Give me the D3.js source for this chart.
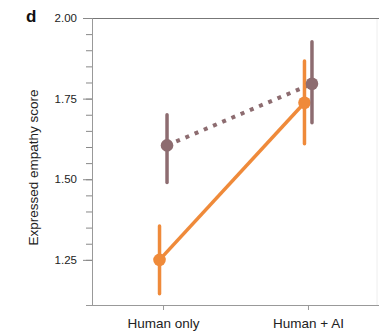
<!DOCTYPE html>
<html>
<head>
<meta charset="utf-8">
<script src="https://cdn.jsdelivr.net/npm/d3@7"></script>
<style>
  body { margin: 0; background: #fff; }
  svg { font-family: "Liberation Sans", Arial, sans-serif; }
</style>
</head>
<body>
<svg id="chart" width="379" height="333"></svg>
<script>
const CONDITIONS = ["Human only", "Human + AI"];
const Y_TICKS = [1.25, 1.50, 1.75, 2.00];

// orange: solid line, brown: dotted line
const ORANGE_MEAN = [1.25, 1.737];
const ORANGE_LOW = [1.145, 1.61];
const ORANGE_HIGH = [1.355, 1.867];

const BROWN_MEAN = [1.605, 1.796];
const BROWN_LOW = [1.49, 1.675];
const BROWN_HIGH = [1.70, 1.926];

const ORANGE = "#ef8a3a";
const BROWN = "#8d6c70";

const LEFT = 92, RIGHT = 379, TOP = 18, BOTTOM = 305;

let svg = d3.select("#chart");

let x = d3.scalePoint().domain(CONDITIONS).range([LEFT, RIGHT]).padding(0.49);
let y = d3.scaleLinear().domain([1.11, 2.0]).range([BOTTOM, TOP]);

const series = [
  {mean: ORANGE_MEAN, low: ORANGE_LOW, high: ORANGE_HIGH, color: ORANGE, dash: null, dx: -3.5},
  {mean: BROWN_MEAN, low: BROWN_LOW, high: BROWN_HIGH, color: BROWN, dash: "4 6", dx: 4}
];

// frame
svg.append("line")
   .attr("x1", RIGHT - 2).attr("x2", RIGHT - 2)
   .attr("y1", TOP).attr("y2", BOTTOM)
   .attr("stroke", "#eeeeee").attr("stroke-width", 1);

svg.append("line")
   .attr("x1", LEFT).attr("x2", RIGHT)
   .attr("y1", TOP + 0.5).attr("y2", TOP + 0.5)
   .attr("stroke", "#777").attr("stroke-width", 1);

// y axis
let yAxis = svg.append("g")
   .attr("transform", `translate(${LEFT},0)`)
   .call(d3.axisLeft(y).tickValues(d3.range(1.25, 2.001, 0.05)).tickSize(6).tickFormat(""));
yAxis.select(".domain").attr("stroke", "#999");
yAxis.selectAll(".tick line").attr("stroke", "#888");

let yMajor = svg.append("g")
   .attr("transform", `translate(${LEFT},0)`)
   .call(d3.axisLeft(y).tickValues(Y_TICKS).tickSize(9).tickPadding(6).tickFormat(d3.format(".2f")));
yMajor.select(".domain").remove();
yMajor.selectAll(".tick line").attr("stroke", "#888");
yMajor.selectAll(".tick text").attr("font-size", 11.5).attr("fill", "#222")
      .attr("font-family", "'Liberation Sans', Arial, sans-serif");

// x axis
let xAxis = svg.append("g")
   .attr("transform", `translate(0,${BOTTOM})`)
   .call(d3.axisBottom(x).tickSize(5).tickPadding(8));
xAxis.select(".domain").attr("d", `M${LEFT},0.5H${RIGHT}`).attr("stroke", "#999");
xAxis.selectAll(".tick line").attr("stroke", "#999");
xAxis.selectAll(".tick text").attr("font-size", 13.5).attr("fill", "#222")
     .attr("font-family", "'Liberation Sans', Arial, sans-serif");

// y label
svg.append("text")
   .attr("transform", `translate(38,${(TOP + BOTTOM) / 2 + 6}) rotate(-90)`)
   .attr("text-anchor", "middle")
   .attr("font-size", 13.5)
   .attr("fill", "#222")
   .text("Expressed empathy score");

// panel letter
svg.append("text")
   .attr("x", 26).attr("y", 22)
   .attr("font-size", 17)
   .attr("font-weight", "bold")
   .attr("fill", "#111")
   .text("d");

// connecting lines
series.forEach(s => {
  let line = d3.line()
               .x((d, i) => x(CONDITIONS[i]) + s.dx)
               .y(d => y(d));
  svg.append("path")
     .datum(s.mean)
     .attr("d", line)
     .attr("fill", "none")
     .attr("stroke", s.color)
     .attr("stroke-width", s.dash ? 4 : 3.5)
     .attr("stroke-dasharray", s.dash);
});

// error bars and points
series.forEach(s => {
  let g = svg.append("g");
  g.selectAll("line")
   .data(CONDITIONS)
   .enter().append("line")
   .attr("x1", (d, i) => x(d) + s.dx)
   .attr("x2", (d, i) => x(d) + s.dx)
   .attr("y1", (d, i) => y(s.low[i]))
   .attr("y2", (d, i) => y(s.high[i]))
   .attr("stroke", s.color)
   .attr("stroke-width", 3.5)
   .attr("stroke-linecap", "round");
  g.selectAll("circle")
   .data(CONDITIONS)
   .enter().append("circle")
   .attr("cx", (d, i) => x(d) + s.dx)
   .attr("cy", (d, i) => y(s.mean[i]))
   .attr("r", 6.3)
   .attr("fill", s.color);
});
</script>
</body>
</html>
